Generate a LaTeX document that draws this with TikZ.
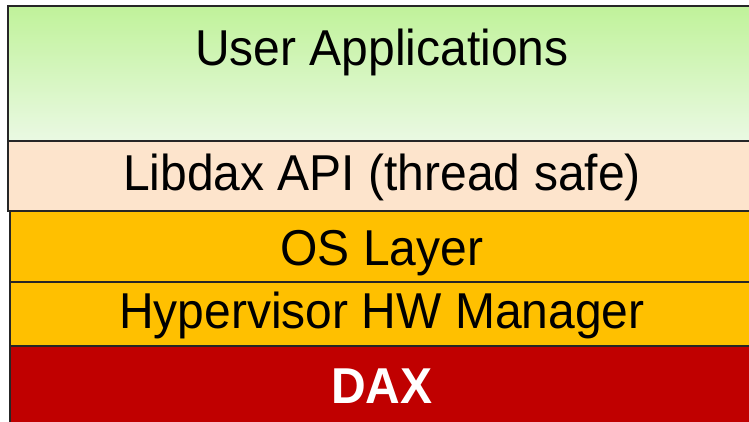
\documentclass[tikz,border=0pt]{standalone}
\usepackage{fontspec}
\setmainfont{Liberation Sans}
\definecolor{gtop}{HTML}{C0F29A}
\definecolor{gbot}{HTML}{EAF9E3}
\definecolor{peach}{HTML}{FDE4CC}
\definecolor{amber}{HTML}{FFC000}
\definecolor{dred}{HTML}{C00000}
\definecolor{edge}{HTML}{262626}
\tikzset{
  layer/.style={draw=edge, line width=2.2pt},
  lbl/.style={anchor=base, inner sep=0pt, font=\fontsize{48}{56}\selectfont},
}
\begin{document}
\begin{tikzpicture}[x=1pt,y=-1pt]
\useasboundingbox (0,0) rectangle (749,421);
\clip (0,0) rectangle (749,421);
\fill[white] (0,0) rectangle (749,421);
\path[layer, top color=gtop, bottom color=gbot] (8,6) rectangle (756,141);
\path[layer, fill=peach] (8,141) rectangle (756,211);
\path[layer, fill=amber] (10,211) rectangle (756,282);
\path[layer, fill=amber] (10,282) rectangle (756,346);
\path[layer, fill=dred] (10,346) rectangle (756,430);
\node[lbl] (ua) at (382,65) {\scalebox{1}[1.05]{User Applications}};
\node[lbl] (lib) at (382,190) {\scalebox{1}[1.05]{Libdax API (thread safe)}};
\node[lbl] (os) at (382,265) {\scalebox{1}[1.05]{OS Layer}};
\node[lbl] (hv) at (382,328) {\scalebox{1}[1.05]{Hypervisor HW Manager}};
\node[lbl, text=white, font=\fontsize{48}{56}\selectfont\bfseries] (dax) at (382,403) {\scalebox{1}[1.05]{DAX}};
\end{tikzpicture}
\end{document}
